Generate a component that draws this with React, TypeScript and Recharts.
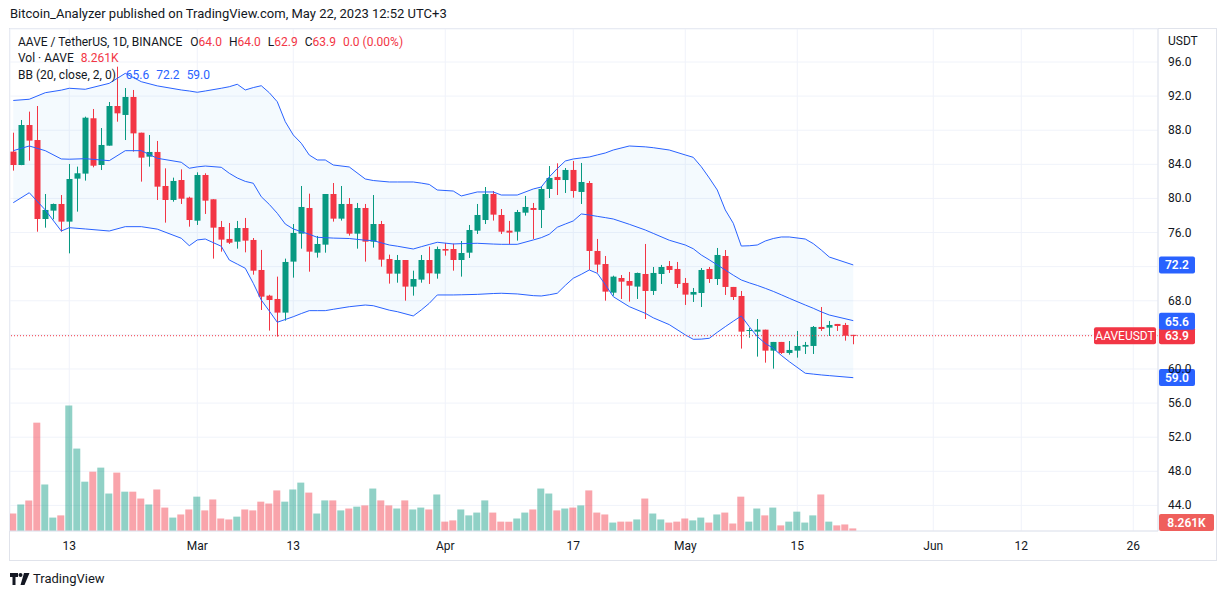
import React from 'react';
import { ComposedChart, Bar, Line, Area, XAxis, YAxis, CartesianGrid, ReferenceLine, Cell } from 'recharts';

// ---- Daily candles AAVE/USDT, Feb 6 2023 (index 0) to May 22 2023 (index 105)
const opens = [
  85.49, 83.92, 88.61, 86.85, 77.59, 78.57, 79.35, 77.28, 82.32, 82.91,
  89.4, 83.92, 86.19, 90.84, 89.79, 91.9, 87.71, 84.9, 85.45, 81.46,
  79.82, 82.16, 80.09, 77.39, 82.75, 79.9, 76.65, 75.25, 74.93, 76.53,
  75.13, 71.61, 68.6, 68.21, 66.61, 72.59, 75.87, 78.88, 73.64, 74.58,
  80.52, 77.63, 79.35, 75.87, 78.88, 74.93, 77.0, 72.9, 71.18, 72.78,
  69.66, 70.48, 72.78, 71.18, 74.07, 74.07, 72.78, 73.64, 76.22, 77.47,
  80.52, 78.06, 76.22, 76.1, 78.33, 78.88, 78.65, 81.11, 82.52, 82.16,
  83.34, 80.76, 81.81, 73.84, 72.31, 68.95, 70.67, 70.32, 69.66, 71.14,
  69.15, 71.14, 72.08, 71.73, 70.09, 68.72, 68.91, 71.73, 70.55, 73.25,
  69.62, 68.56, 64.46, 64.38, 64.61, 62.15, 63.17, 61.88, 62.15, 62.62,
  62.7, 64.93, 64.85, 65.28, 65.16, 64.0,
];
const highs = [
  87.71, 89.2, 90.18, 90.84, 80.52, 79.4, 80.4, 84.04, 83.73, 89.59,
  90.49, 88.26, 91.31, 95.45, 92.95, 92.72, 87.71, 87.44, 86.74, 83.53,
  82.44, 83.41, 80.2, 83.06, 82.95, 79.9, 77.36, 77.12, 77.36, 77.71,
  75.36, 73.96, 68.7, 70.83, 72.94, 77.0, 81.46, 80.56, 75.6, 80.52,
  81.81, 81.46, 80.05, 79.47, 79.35, 80.4, 77.36, 73.41, 73.37, 72.78,
  71.53, 73.37, 74.35, 74.35, 74.78, 74.7, 75.01, 76.89, 79.35, 81.34,
  80.87, 78.76, 77.36, 78.65, 80.29, 79.47, 81.38, 83.8, 84.12, 83.57,
  84.39, 84.16, 82.05, 75.25, 73.25, 70.94, 71.02, 71.38, 71.3, 74.66,
  71.96, 72.2, 72.66, 72.55, 70.67, 69.5, 71.84, 71.96, 74.19, 73.95,
  69.62, 69.15, 64.81, 65.86, 64.61, 63.17, 63.17, 63.28, 64.46, 63.17,
  65.04, 67.27, 65.63, 65.28, 65.4, 64.0,
];
const lows = [
  83.26, 83.9, 84.43, 76.1, 76.57, 77.55, 76.1, 73.56, 78.45, 82.09,
  83.65, 83.33, 86.19, 89.0, 86.85, 85.49, 81.97, 83.73, 79.82, 77.16,
  79.62, 79.35, 76.69, 76.89, 78.18, 72.94, 73.76, 74.66, 74.11, 73.68,
  71.06, 66.92, 64.5, 63.79, 65.67, 70.71, 74.11, 71.41, 73.06, 73.64,
  77.28, 77.4, 75.64, 74.11, 72.59, 74.23, 72.0, 70.01, 70.12, 68.01,
  68.6, 70.12, 69.97, 70.59, 73.29, 71.53, 70.83, 73.02, 75.83, 77.0,
  77.4, 75.83, 74.66, 75.05, 77.98, 75.25, 76.53, 80.05, 80.4, 80.64,
  80.09, 79.35, 71.61, 71.3, 68.01, 68.6, 68.21, 67.9, 68.21, 65.86,
  68.68, 69.97, 71.26, 69.5, 67.51, 67.86, 67.27, 70.09, 69.85, 68.68,
  68.09, 62.39, 63.67, 61.45, 60.74, 60.04, 61.76, 61.68, 61.33, 61.76,
  61.76, 64.46, 63.87, 64.46, 63.32, 62.9,
];
const closes = [
  83.92, 88.61, 86.78, 77.59, 78.65, 79.35, 77.28, 82.28, 82.95, 89.47,
  83.84, 86.27, 90.84, 89.98, 91.9, 87.63, 84.78, 85.45, 81.38, 79.82,
  82.05, 79.97, 77.47, 82.75, 79.74, 76.57, 75.17, 74.81, 76.53, 75.05,
  71.53, 68.48, 68.09, 66.61, 72.55, 75.95, 79.0, 73.76, 74.66, 80.52,
  77.63, 79.35, 75.87, 78.88, 74.93, 77.0, 72.82, 71.18, 72.78, 69.66,
  70.55, 72.78, 71.22, 74.07, 73.88, 72.78, 73.6, 76.3, 78.06, 80.52,
  78.1, 76.1, 75.99, 78.41, 79.0, 78.65, 81.11, 82.4, 82.16, 83.34,
  80.87, 81.93, 73.84, 72.24, 69.07, 70.83, 70.24, 69.77, 71.26, 69.15,
  71.26, 71.96, 71.61, 69.97, 68.72, 69.03, 71.61, 70.55, 73.37, 69.62,
  68.44, 64.38, 64.57, 64.61, 62.15, 63.17, 61.88, 62.23, 62.7, 62.82,
  64.93, 64.69, 65.16, 65.04, 63.9, 63.9,
];
// volume, thousands of AAVE
const volumes = [
  56, 85, 98, 347, 149, 43, 50, 402, 264, 158,
  190, 203, 120, 187, 126, 126, 104, 85, 133, 75,
  43, 53, 69, 110, 66, 101, 40, 37, 46, 69,
  66, 94, 88, 130, 94, 133, 155, 123, 56, 98,
  98, 66, 72, 78, 82, 136, 98, 82, 72, 98,
  69, 75, 69, 117, 30, 34, 69, 50, 59, 98,
  59, 30, 30, 40, 59, 69, 136, 120, 66, 72,
  75, 82, 130, 59, 53, 27, 30, 30, 37, 104,
  56, 37, 27, 30, 40, 34, 43, 27, 53, 59,
  24, 110, 30, 72, 50, 75, 18, 30, 62, 27,
  50, 117, 30, 18, 21, 8.261,
];

// ---- Bollinger Bands (20, 2) at these candle indices
const bbIdx = [
  0, 2, 4, 6, 7, 9, 12, 14, 16, 18,
  21, 22, 23, 24, 26, 27, 28, 29, 30, 31, 32, 33, 34, 35, 36, 37, 38, 39, 40,
  42, 44, 45, 47, 48, 50, 51, 52, 53, 55, 56, 58, 60, 61, 63, 65, 66, 67, 68, 69, 70, 71, 72, 73, 74, 75,
  77, 79, 80, 82, 84, 85, 86, 87, 88, 89, 90, 91, 92, 93, 94, 95, 96, 97,
  99, 100, 101, 102, 105,
];
const bbUpper = [
  91.49, 91.63, 92.4, 92.7, 92.92, 92.8, 93.5, 94.67, 93.69, 93.2,
  92.72, 92.6, 92.45, 92.6, 92.92, 93.1, 93.39, 92.72, 93.0, 93.22, 92.4, 91.34, 89.0, 87.44, 86.47, 85.09, 84.51, 84.51, 83.92,
  83.69, 82.28, 82.1, 81.93, 81.93, 81.93, 81.8, 81.64, 80.99, 80.87, 80.29, 80.76, 80.76, 80.4, 80.4, 81.11, 81.34, 82.52, 83.5, 84.39, 84.63, 84.75, 84.86, 85.1, 85.33, 85.68,
  86.15, 86.05, 85.95, 85.68, 85.1, 84.82, 83.72, 82.4, 80.99, 78.65, 77.09, 74.42, 74.45, 74.54, 75.01, 75.3, 75.48, 75.48,
  75.24, 74.7, 73.95, 73.13, 72.2,
];
const bbMid = [
  85.6, 86.15, 85.6, 84.63, 84.6, 84.66, 84.43, 85.6, 85.6, 84.71,
  84.24, 83.54, 83.7, 83.8, 83.65, 82.95, 82.4, 82.0, 81.78, 80.2, 79.3, 78.26, 77.0, 76.42, 76.1, 75.8, 75.44, 75.4, 75.35,
  75.3, 75.1, 75.05, 74.54, 74.4, 74.07, 74.34, 74.6, 74.86, 74.66, 74.7, 74.74, 74.65, 74.62, 74.62, 75.13, 75.4, 75.8, 76.62, 77.0, 77.36, 78.18, 78.06, 77.9, 77.75, 77.59,
  76.97, 76.3, 75.9, 75.1, 74.54, 74.1, 73.37, 72.8, 72.2, 71.61, 71.0, 70.44, 70.1, 69.8, 69.46, 69.1, 68.7, 68.29,
  67.5, 67.12, 66.7, 66.33, 65.67,
];
const bbLower = [
  79.5, 80.67, 78.65, 76.18, 76.57, 76.42, 76.18, 76.69, 76.69, 76.4,
  75.33, 74.46, 75.13, 75.24, 74.39, 72.78, 72.3, 71.81, 70.05, 68.09, 66.8, 65.48, 65.8, 66.13, 66.5, 66.84, 66.84, 66.84, 67.0,
  67.3, 67.5, 67.42, 66.9, 66.72, 66.22, 66.92, 67.7, 68.68, 68.68, 68.7, 68.75, 68.85, 68.88, 68.8, 68.6, 68.56, 68.7, 68.88, 69.8, 70.64, 71.1, 71.61, 71.22, 69.9, 68.48,
  67.31, 66.53, 66.0, 65.2, 64.0, 63.48, 63.5, 63.6, 64.3, 64.96, 65.6, 66.22, 64.96, 63.8, 63.0, 62.43, 61.6, 60.86,
  59.5, 59.4, 59.3, 59.22, 58.98,
];

// ---- axis ticks
const timeTickIdx = [7, 23, 35, 54, 70, 84, 98, 115, 126, 140];
const timeTickLabels = ['13', 'Mar', '13', 'Apr', '17', 'May', '15', 'Jun', '12', '26'];
const priceTicks = [44, 48, 52, 56, 60, 64, 68, 72, 76, 80, 84, 88, 92, 96];
const hiddenPriceLabels = [64, 72];

const GREEN = '#089981';
const RED = '#f23645';
const BLUE = '#2962ff';
const TEXT = '#131722';
const BORDER = '#e0e3eb';
const GRID = '#f0f3fa';
const FONT = 'Roboto, "Noto Sans", "DejaVu Sans", sans-serif';

const CHART_W = 1217;
const CHART_H = 561;
const MARGIN = { top: 29, left: 10, right: 1, bottom: 1 };
const XAXIS_H = 29;
const PLOT_BOTTOM = CHART_H - MARGIN.bottom - XAXIS_H;

const candles = opens.map((o, i) => ({ i, o, h: highs[i], l: lows[i], c: closes[i], v: volumes[i] }));
const bandData = bbIdx.map((k, j) => ({ i: k, u: bbUpper[j], m: bbMid[j], lo: bbLower[j], band: [bbLower[j], bbUpper[j]] }));

const Candle = (props: any) => {
  const { x, y, width, height, payload } = props;
  if (x == null || y == null || !payload) return <g />;
  const top = Math.min(y, y + height);
  const bot = Math.max(y, y + height);
  const { o, h, l, c } = payload;
  const k = (bot - top) / (h - l || 1);
  const yv = (v: number) => top + (h - v) * k;
  const color = c >= o ? GREEN : RED;
  const cx = Math.round(x + width / 2) + 0.5;
  const bt = yv(Math.max(o, c));
  const bb = yv(Math.min(o, c));
  return (
    <g>
      <line x1={cx} x2={cx} y1={top} y2={bot} stroke={color} strokeWidth={1} />
      <rect x={cx - 3} y={bt} width={6} height={Math.max(1, bb - bt)} fill={color} />
    </g>
  );
};

const PriceTick = (props: any) => {
  const v = props.payload?.value;
  if (v == null || hiddenPriceLabels.includes(v)) return <g />;
  return (
    <text x={props.x} y={props.y} dy={4} fontSize={12} fill={TEXT} fontFamily={FONT} textAnchor="start">
      {Number(v).toFixed(1)}
    </text>
  );
};

const TimeTick = (props: any) => {
  const v = props.payload?.value;
  const idx = timeTickIdx.indexOf(v);
  return (
    <text x={props.x} y={PLOT_BOTTOM + 19} fontSize={12} fill={TEXT} fontFamily={FONT} textAnchor="middle">
      {idx >= 0 ? timeTickLabels[idx] : ''}
    </text>
  );
};

const makeTag = (text: string, color: string, w: number, withName = false, maxY = 10000) => (props: any) => {
  const vb = props.viewBox || {};
  const right = (vb.x || 0) + (vb.width || 0);
  const cy = Math.min(vb.y || 0, maxY);
  return (
    <g>
      {withName && (
        <g>
          <rect x={right - 64} y={cy - 8.5} width={62} height={17} fill={RED} rx={2} />
          <text x={right - 33} y={cy + 4.5} fill="#fff" fontSize={12} fontFamily={FONT} textAnchor="middle">AAVEUSDT</text>
        </g>
      )}
      <rect x={right + 1} y={cy - 8.5} width={w} height={17} fill={color} rx={2} />
      <text x={right + 1 + w / 2} y={cy + 4.5} fill="#fff" fontSize={12} fontWeight={600} fontFamily={FONT} textAnchor="middle">{text}</text>
    </g>
  );
};

const Legend = () => {
  const s: React.CSSProperties = { position: 'absolute', whiteSpace: 'nowrap', fontSize: 12, fontFamily: FONT, color: TEXT, lineHeight: '16px' };
  return (
    <>
      <div style={{ ...s, left: 10, top: 6, fontSize: 13 }}>Bitcoin_Analyzer published on TradingView.com, May 22, 2023 12:52 UTC+3</div>
      <div style={{ ...s, left: 18, top: 34 }}>
        AAVE / TetherUS, 1D, BINANCE
        <span style={{ marginLeft: 8 }}>O</span><span style={{ color: RED }}>64.0</span>
        <span style={{ marginLeft: 7 }}>H</span><span style={{ color: RED }}>64.0</span>
        <span style={{ marginLeft: 7 }}>L</span><span style={{ color: RED }}>62.9</span>
        <span style={{ marginLeft: 7 }}>C</span><span style={{ color: RED }}>63.9</span>
        <span style={{ marginLeft: 7, color: RED }}>0.0 (0.00%)</span>
      </div>
      <div style={{ ...s, left: 18, top: 50 }}>
        Vol · AAVE<span style={{ marginLeft: 7, color: RED }}>8.261K</span>
      </div>
      <div style={{ ...s, left: 18, top: 67 }}>
        BB (20, close, 2, 0)
        <span style={{ marginLeft: 10, color: BLUE }}>65.6</span>
        <span style={{ marginLeft: 7, color: BLUE }}>72.2</span>
        <span style={{ marginLeft: 7, color: BLUE }}>59.0</span>
      </div>
      <div style={{ ...s, left: 1168, top: 33 }}>USDT</div>
      <div style={{ position: 'absolute', left: 10, top: 571, display: 'flex', alignItems: 'center' }}>
        <svg width="20" height="12" viewBox="0 0 20 12">
          <path d="M0 0h8v4H5.5v8h-3V4H0z" fill={TEXT} />
          <circle cx="10.5" cy="2" r="2" fill={TEXT} />
          <path d="M14 0h5.5l-5 12h-4z" fill={TEXT} />
        </svg>
        <span style={{ marginLeft: 3, fontSize: 13, fontFamily: FONT, color: TEXT }}>TradingView</span>
      </div>
    </>
  );
};

export default function App() {
  return (
    <div style={{ position: 'absolute', left: 0, top: 0, width: 1225, height: 595, background: '#fff', overflow: 'hidden' }}>
      <div style={{ position: 'absolute', left: 9, top: 28, width: 1208, height: 533, border: `1px solid ${BORDER}`, boxSizing: 'border-box' }} />
      <div style={{ position: 'absolute', left: 0, top: 0 }}>
        <ComposedChart width={CHART_W} height={CHART_H} data={candles} margin={MARGIN}>
          <XAxis xAxisId="x" dataKey="i" type="number" domain={[-0.41, 143.09]} allowDataOverflow ticks={timeTickIdx}
            interval={0} height={XAXIS_H} tick={<TimeTick />} tickLine={false} axisLine={{ stroke: BORDER }} />
          <XAxis xAxisId="vx" orientation="top" dataKey="i" type="number" domain={[-0.41, 143.09]} allowDataOverflow hide />
          <YAxis yAxisId="p" orientation="right" type="number" domain={[41.0, 99.87]} allowDataOverflow ticks={priceTicks}
            interval={0} width={58} tick={<PriceTick />} tickLine={false} tickSize={6} tickMargin={4} axisLine={{ stroke: BORDER }} />
          <YAxis yAxisId="vol" type="number" domain={[0, 1608]} allowDataOverflow hide />
          <CartesianGrid xAxisId="x" yAxisId="p" stroke={GRID} strokeWidth={1} />
          <Area xAxisId="x" yAxisId="p" data={bandData} dataKey="band" type="linear" stroke="none" fill="#2196f3" fillOpacity={0.05}
            isAnimationActive={false} connectNulls />
          <Line xAxisId="x" yAxisId="p" data={bandData} dataKey="u" type="linear" stroke={BLUE} strokeWidth={1} dot={false} isAnimationActive={false} connectNulls />
          <Line xAxisId="x" yAxisId="p" data={bandData} dataKey="m" type="linear" stroke={BLUE} strokeWidth={1} dot={false} isAnimationActive={false} connectNulls />
          <Line xAxisId="x" yAxisId="p" data={bandData} dataKey="lo" type="linear" stroke={BLUE} strokeWidth={1} dot={false} isAnimationActive={false} connectNulls />
          <Bar xAxisId="vx" yAxisId="vol" dataKey="v" barSize={7} isAnimationActive={false}>
            {candles.map((d, k) => (
              <Cell key={k} fill={d.c >= d.o ? GREEN : RED} fillOpacity={0.45} />
            ))}
          </Bar>
          <Bar xAxisId="x" yAxisId="p" dataKey={(d: any) => [d.l, d.h]} barSize={7} shape={<Candle />} isAnimationActive={false} />
          <ReferenceLine xAxisId="x" yAxisId="p" y={63.9} stroke={RED} strokeDasharray="1 2" strokeWidth={1}
            label={makeTag('63.9', RED, 36, true)} />
          <ReferenceLine xAxisId="x" yAxisId="p" y={72.2} stroke="none" label={makeTag('72.2', BLUE, 36)} />
          <ReferenceLine xAxisId="x" yAxisId="p" y={65.6} stroke="none" label={makeTag('65.6', BLUE, 36)} />
          <ReferenceLine xAxisId="x" yAxisId="p" y={59.0} stroke="none" label={makeTag('59.0', BLUE, 36)} />
          <ReferenceLine xAxisId="x" yAxisId="vol" y={8.261} stroke="none" label={makeTag('8.261K', '#ef5f5c', 55, false, 522.5)} />
        </ComposedChart>
      </div>
      <Legend />
    </div>
  );
}
